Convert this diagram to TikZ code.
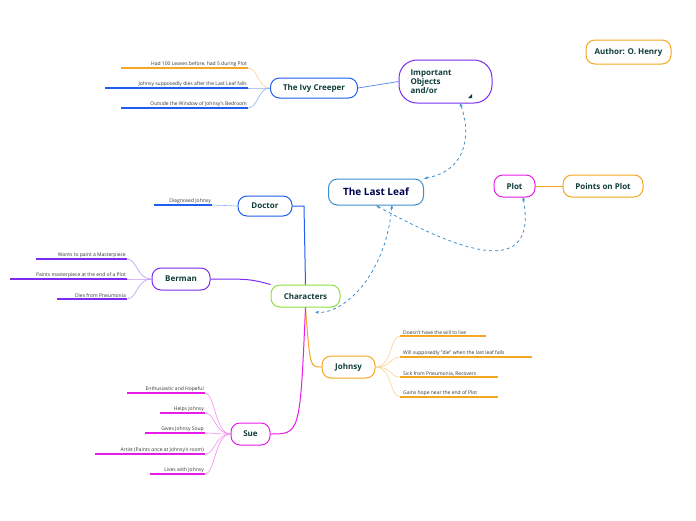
\documentclass[tikz,border=0pt]{standalone}
\usepackage{fontspec}
\setmainfont{Open Sans}
\usetikzlibrary{arrows.meta,positioning}
\definecolor{cblue}{HTML}{1F5EF0}
\definecolor{clight}{HTML}{3A8FD0}
\definecolor{cpurple}{HTML}{7B2CF0}
\definecolor{cmag}{HTML}{E81CE8}
\definecolor{corange}{HTML}{F5A623}
\definecolor{cgreen}{HTML}{8CE040}
\definecolor{ctext}{HTML}{0F3D3A}
\tikzset{
  topic/.style={draw=#1,line width=1pt,rounded corners=9pt,fill=white,
    font=\fontsize{8}{9}\selectfont\bfseries,text=ctext,inner sep=0pt,align=center},
  leaf/.style={font=\fontsize{5}{6}\selectfont,text=black!80,anchor=south east,inner sep=1pt},
  uline/.style={draw=#1,line width=1.2pt},
  twig/.style={draw=#1!50,line width=0.6pt},
  link/.style={draw=clight,dashed,line width=0.8pt,{Stealth[length=4pt]}-{Stealth[length=4pt]}}
}
\begin{document}
\begin{tikzpicture}[x=1pt,y=-1pt]
\useasboundingbox (0,0) rectangle (696,520);
% main nodes
\node[topic=clight,minimum width=95pt,minimum height=26pt,text=blue!30!black,font=\fontsize{10}{11}\selectfont\bfseries] (leaf) at (376,192) {The Last Leaf};
\node[topic=cpurple,minimum width=93pt,minimum height=43pt,rounded corners=18pt,align=left,text width=70pt] (objects) at (445.5,81.5) {Important\\Objects\\and/or};
\fill[ctext] (468,98) -- (472,94) -- (472,98) -- cycle;
\node[topic=cblue,minimum width=87pt,minimum height=20pt] (ivy) at (314,88) {The Ivy Creeper};
\node[topic=cmag,minimum width=41pt,minimum height=22pt] (plot) at (514.5,186) {Plot};
\node[topic=corange,minimum width=80pt,minimum height=22pt] (points) at (603,186) {Points on Plot};
\node[topic=corange,minimum width=85pt,minimum height=24pt] (author) at (628.5,52) {Author: O. Henry};
\node[topic=cblue,minimum width=54pt,minimum height=20pt] (doctor) at (265,206) {Doctor};
\node[topic=cpurple,minimum width=58pt,minimum height=22pt] (berman) at (181,279) {Berman};
\node[topic=cgreen,minimum width=69pt,minimum height=22pt] (chars) at (305.5,296) {Characters};
\node[topic=corange,minimum width=53pt,minimum height=22pt] (johnsy) at (348.5,367) {Johnsy};
\node[topic=cmag,minimum width=39pt,minimum height=22pt] (sue) at (250.5,434) {Sue};
% branches
\draw[cblue!70,line width=0.8pt] (ivy.east) -- (objects.west);
\draw[corange,line width=1pt] (plot.east) -- (points.west);
\draw[cblue,line width=1pt] (chars.north) -- (304,206) -- (doctor.east);
\draw[cpurple,line width=1pt] (berman.east) .. controls (250,279) .. (chars.north west);
\draw[corange,line width=1pt] (chars.south) .. controls (310,367) .. (johnsy.west);
\draw[cmag,line width=1pt] (chars.south) .. controls (300,434) .. (sue.east);
% relations
\draw[link] (leaf.north east) .. controls (470,170) and (470,130) .. (460,103);
\draw[link] (leaf.south) .. controls (440,240) and (540,290) .. (523,197);
\draw[link] (392,205) .. controls (385,280) and (340,315) .. (315,312);
% ivy leaves
\foreach \y/\x/\c/\t in {68/121/corange/{Had 100 Leaves before, had 5 during Plot},
  88/105/cblue/{Johnsy supposedly dies after the Last Leaf falls},
  108/121/cblue/{Outside the Window of Johnsy's Bedroom}}{
  \draw[uline=\c] (\x,\y) -- (248,\y);
  \node[leaf] at (248,\y) {\t};
  \draw[twig=\c] (248,\y) .. controls (258,\y) and (258,88) .. (ivy.west);
}
% doctor leaf
\draw[uline=cblue] (154,205) -- (212,205);
\node[leaf] at (212,205) {Diagnosed Johnsy};
\draw[twig=cblue] (212,205) -- (doctor.west);
% berman leaves
\foreach \y/\x/\t in {259/36/{Wants to paint a Masterpiece},279/10/{Paints masterpiece at the end of a Plot},299/57/{Dies from Pneumonia}}{
  \draw[uline=cpurple] (\x,\y) -- (127,\y);
  \node[leaf] at (127,\y) {\t};
  \draw[twig=cpurple] (127,\y) .. controls (137,\y) and (137,279) .. (berman.west);
}
% sue leaves
\foreach \y/\x/\t in {393/127/{Enthusiastic and Hopeful},413/160/{Helps Johnsy},433/145/{Gives Johnsy Soup},454/95/{Artist (Paints once at Johnsy's room)},474/150/{Lives with Johnsy}}{
  \draw[uline=cmag] (\x,\y) -- (205,\y);
  \node[leaf] at (205,\y) {\t};
  \draw[twig=cmag] (205,\y) .. controls (215,\y) and (215,434) .. (sue.west);
}
% johnsy leaves
\foreach \y/\x/\t in {336/486/{Doesn't have the will to live},357/532/{Will supposedly "die" when the last leaf falls},377/498/{Sick from Pneumonia, Recovers},397/498/{Gains hope near the end of Plot}}{
  \draw[uline=corange] (400,\y) -- (\x,\y);
  \node[leaf,anchor=south west] at (402,\y) {\t};
  \draw[twig=corange] (johnsy.east) .. controls (392,367) and (390,\y) .. (400,\y);
}
\end{tikzpicture}
\end{document}
